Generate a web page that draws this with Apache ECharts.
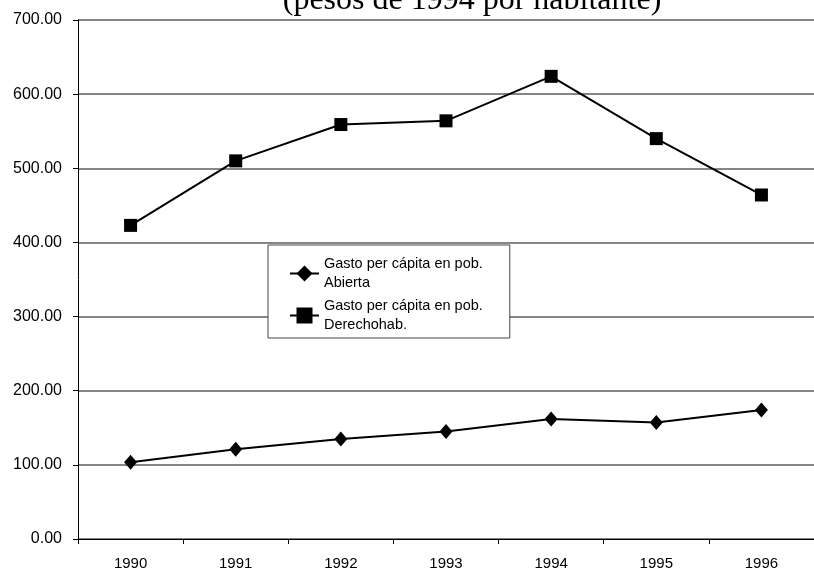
<!DOCTYPE html>
<html>
<head>
<meta charset="utf-8">
<script src="https://cdn.jsdelivr.net/npm/echarts@6/dist/echarts.min.js"></script>
<style>
  html, body { margin: 0; padding: 0; background: #fff; }
  #chart { width: 814px; height: 571px; }
</style>
</head>
<body>
<div id="chart"></div>
<script>
// datos
var years = ['1990', '1991', '1992', '1993', '1994', '1995', '1996'];
var gastoAbierta = [103.5, 121, 135, 145, 162, 157, 174];
var gastoDerechohab = [423, 510, 559, 564, 624, 540, 464];
var yTicks = [0, 700, 100];

var myChart = echarts.init(document.getElementById('chart'));

var option = {
    backgroundColor: '#fff',
    animation: false,
    title: {
        text: '(pesos de 1994 por habitante)',
        left: 467,
        textAlign: 'center',
        top: -20,
        textStyle: {
            fontFamily: 'Liberation Serif',
            fontWeight: 'normal',
            fontSize: 32,
            color: '#000'
        }
    },
    legend: {
        orient: 'vertical',
        left: 268,
        top: 245,
        padding: [0, 27, -6, 21],
        itemWidth: 29,
        itemHeight: 20,
        itemGap: -15,
        backgroundColor: '#fff',
        borderColor: '#444',
        borderWidth: 1,
        borderRadius: 0,
        lineStyle: { width: 2 },
        textStyle: {
            fontFamily: 'Liberation Sans',
            fontSize: 14.5,
            color: '#000',
            lineHeight: 19,
            padding: [19, 0, 0, 0]
        },
        data: ['Gasto per cápita en pob.\nAbierta', 'Gasto per cápita en pob.\nDerechohab.']
    },
    grid: {
        left: 78,
        top: 20,
        width: 746,
        height: 519,
        containLabel: false
    },
    xAxis: {
        type: 'category',
        data: years,
        boundaryGap: true,
        axisLine: { lineStyle: { color: '#000', width: 1 } },
        axisTick: { show: true, length: 5, lineStyle: { color: '#000' } },
        axisLabel: {
            margin: 17,
            fontFamily: 'Liberation Sans',
            fontSize: 15,
            color: '#000'
        }
    },
    yAxis: {
        type: 'value',
        min: yTicks[0],
        max: yTicks[1],
        interval: yTicks[2],
        axisLine: { show: true, lineStyle: { color: '#000', width: 1 } },
        axisTick: { show: true, length: 5, lineStyle: { color: '#000' } },
        axisLabel: {
            margin: 16,
            fontFamily: 'Liberation Sans',
            fontSize: 16,
            color: '#000',
            formatter: function (v) { return v.toFixed(2); }
        },
        splitLine: { show: true, lineStyle: { color: '#858585', width: 2 } }
    },
    series: [
        {
            name: 'Gasto per cápita en pob.\nAbierta',
            type: 'line',
            data: gastoAbierta,
            symbol: 'diamond',
            symbolSize: [13, 15],
            lineStyle: { color: '#000', width: 2 },
            itemStyle: { color: '#000' }
        },
        {
            name: 'Gasto per cápita en pob.\nDerechohab.',
            type: 'line',
            data: gastoDerechohab,
            symbol: 'rect',
            symbolSize: 13,
            lineStyle: { color: '#000', width: 2 },
            itemStyle: { color: '#000' }
        }
    ]
};

myChart.setOption(option);
</script>
</body>
</html>
